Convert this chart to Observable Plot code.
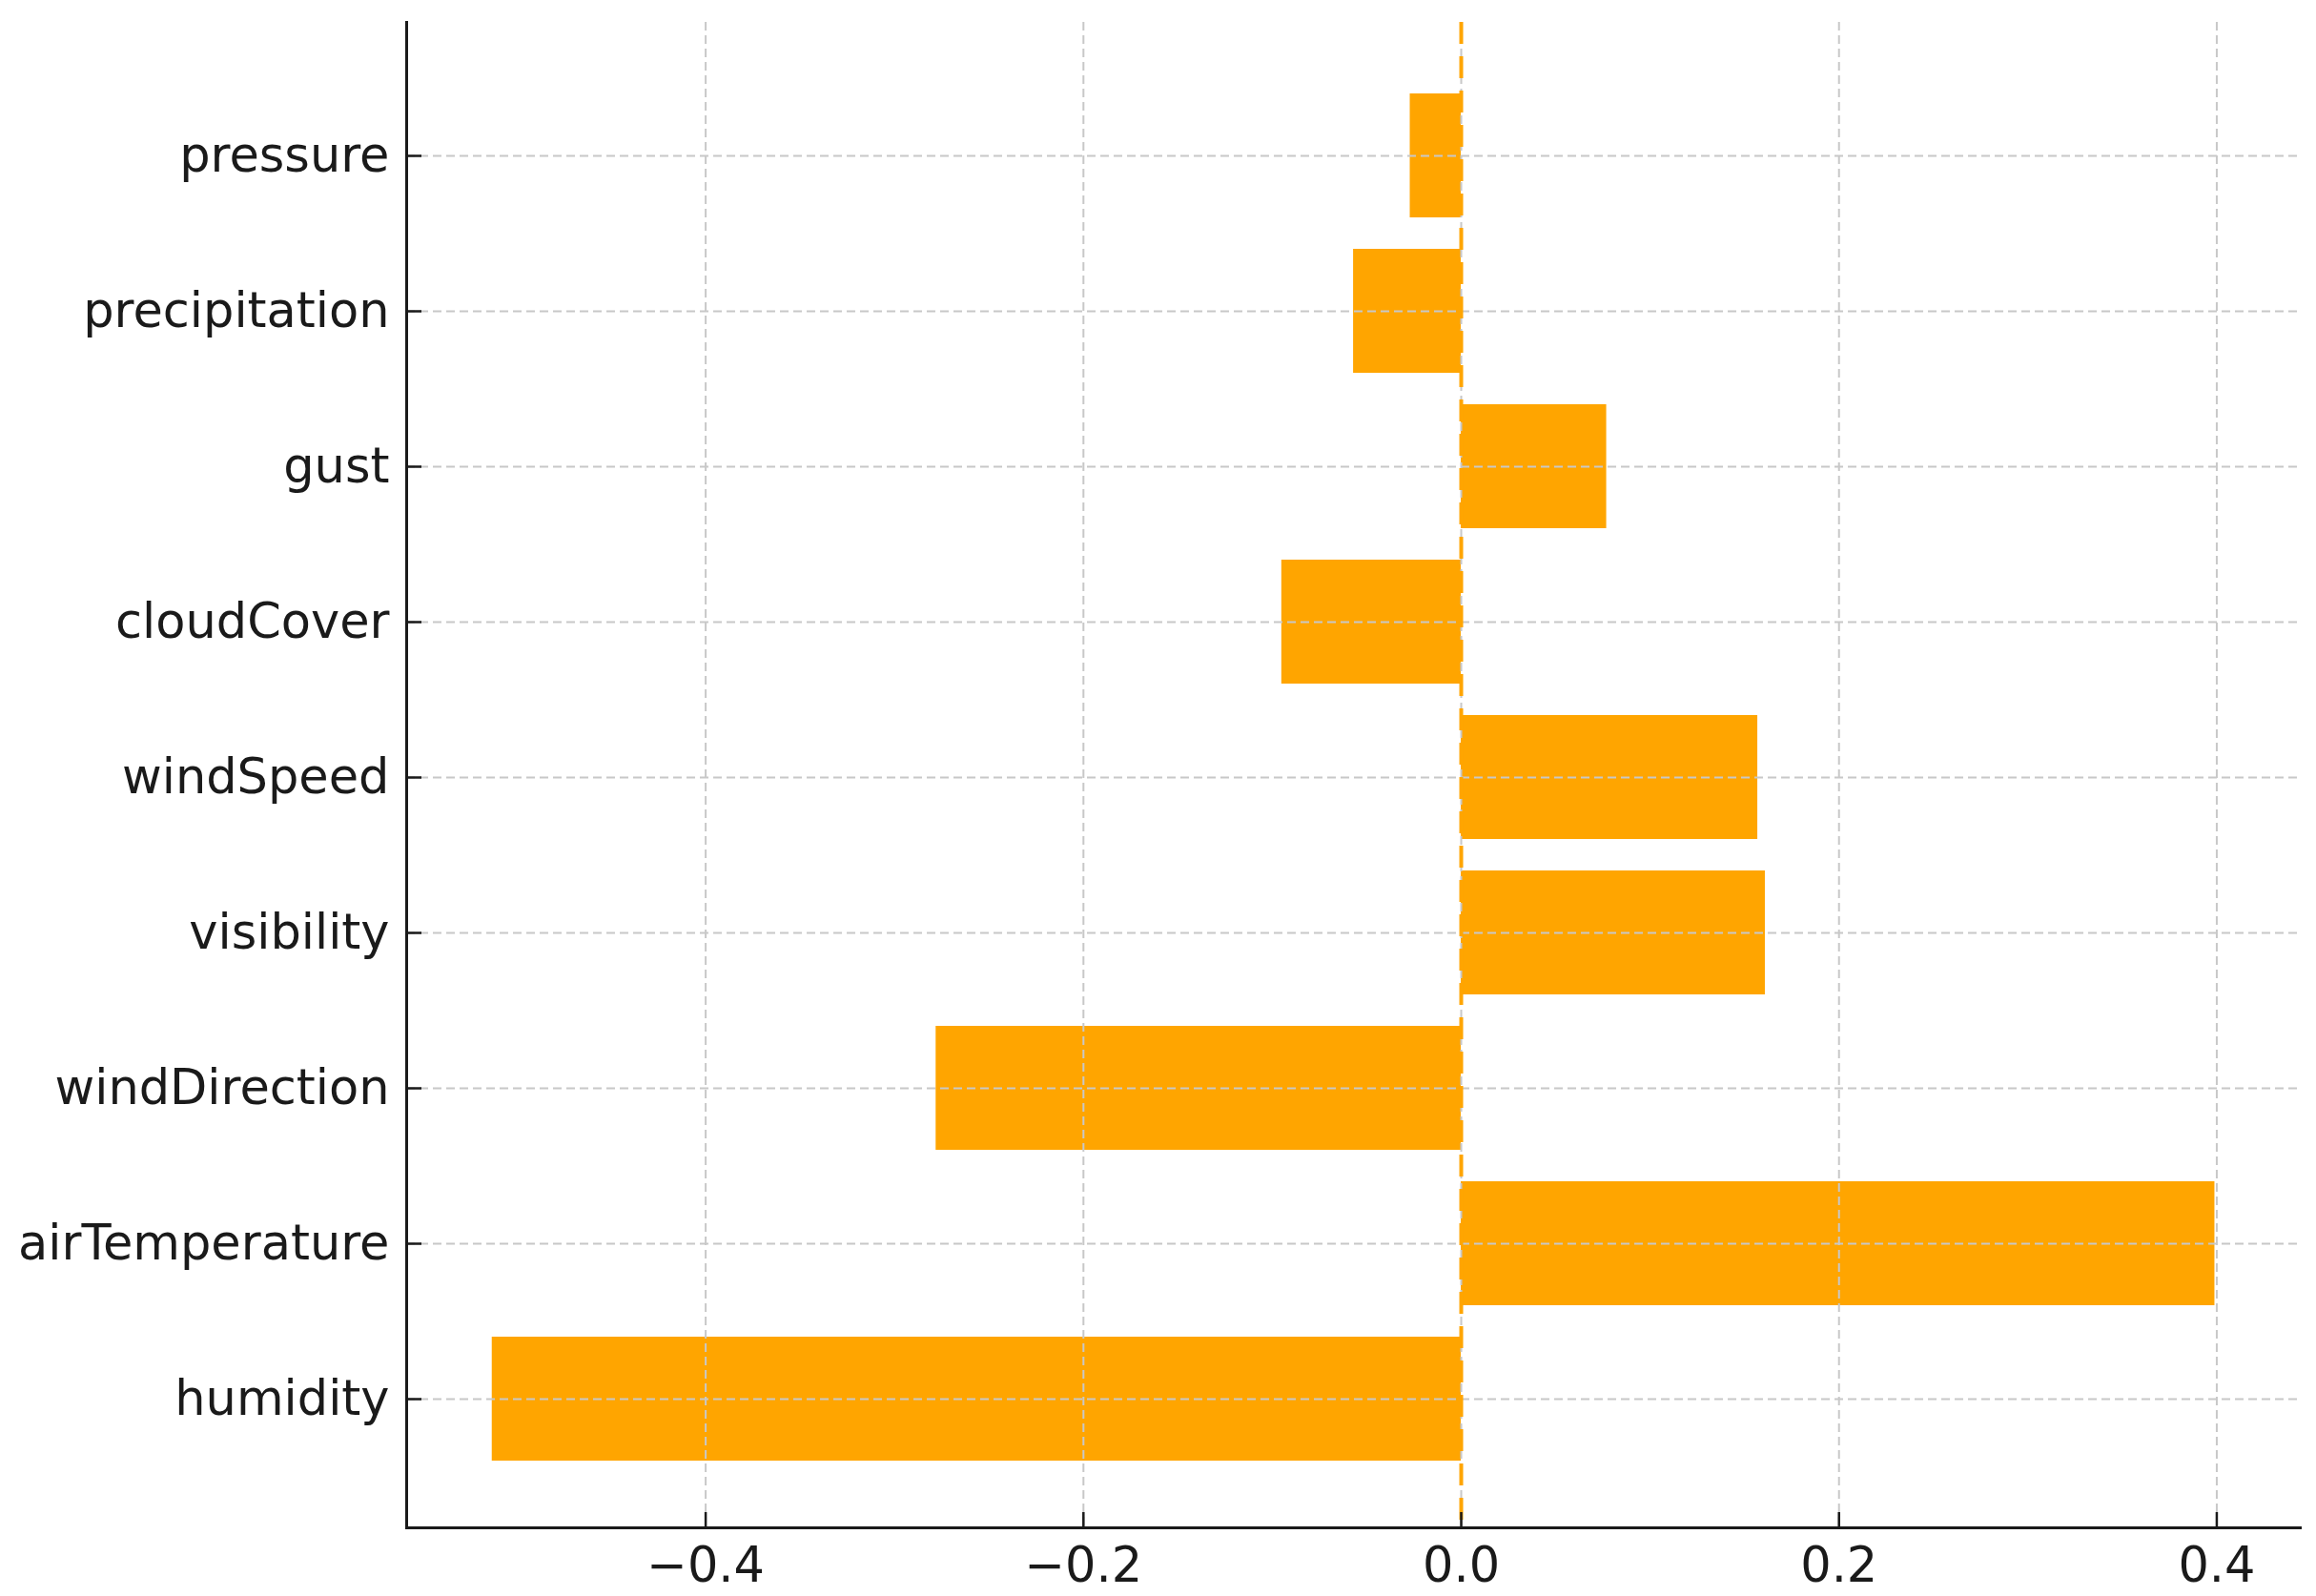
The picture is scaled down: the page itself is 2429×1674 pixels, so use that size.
<!DOCTYPE html>
<html><head><meta charset="utf-8">
<script src="https://cdn.jsdelivr.net/npm/d3@7"></script>
<script src="https://cdn.jsdelivr.net/npm/@observablehq/plot@0.6"></script>
<style>html,body{margin:0;padding:0;background:#fff;overflow:hidden}</style>
</head><body><div id="chart"></div>
<script>
// Data (bottom to top as in the reference)
const categories = ["humidity","airTemperature","windDirection","visibility","windSpeed","cloudCover","gust","precipitation","pressure"];
const values = [-0.513, 0.399, -0.278, 0.161, 0.157, -0.095, 0.077, -0.057, -0.027];
const xTicks = [-0.4, -0.2, 0.0, 0.2, 0.4];

const data = categories.map((c, i) => ({feature: c, value: values[i]}));
const fmt = d3.format(".1f");
const textColor = "#1a1a1a";
const gridStyle = {stroke: "#c8c8c8", strokeOpacity: 1, strokeWidth: 2, strokeDasharray: "9,5"};

const chart = Plot.plot({
  width: 2429,
  height: 1674,
  marginLeft: 426,
  marginRight: 17,
  marginTop: 23,
  marginBottom: 72,
  style: {fontFamily: "DejaVu Sans", fontSize: "51px", color: textColor, background: "#fff"},
  x: {domain: [-0.5583, 0.4442], label: null},
  y: {domain: categories.slice().reverse(), paddingInner: 0.2, paddingOuter: 0.4435, align: 0.517, label: null},
  marks: [
    Plot.barX(data, {x: "value", y: "feature", fill: "orange"}),
    Plot.gridX(xTicks, gridStyle),
    Plot.gridY(categories, gridStyle),
    Plot.ruleX([0], {stroke: "orange", strokeWidth: 4, strokeDasharray: "23,13"}),
    Plot.frame({anchor: "left", stroke: textColor, strokeWidth: 3}),
    Plot.frame({anchor: "bottom", stroke: textColor, strokeWidth: 3}),
    Plot.axisX(xTicks, {tickSize: -16, tickFormat: () => "", label: null, stroke: textColor, strokeWidth: 2.5}),
    Plot.axisX(xTicks, {tickSize: 0, tickPadding: 20, tickFormat: fmt, label: null, fill: textColor, fontSize: 51}),
    Plot.axisY(categories, {tickSize: -16, tickFormat: () => "", label: null, stroke: textColor, strokeWidth: 2.5}),
    Plot.axisY(categories, {tickSize: 0, tickPadding: 18, label: null, fill: textColor, fontSize: 51})
  ]
});
document.getElementById("chart").appendChild(chart);
</script>
</body></html>
